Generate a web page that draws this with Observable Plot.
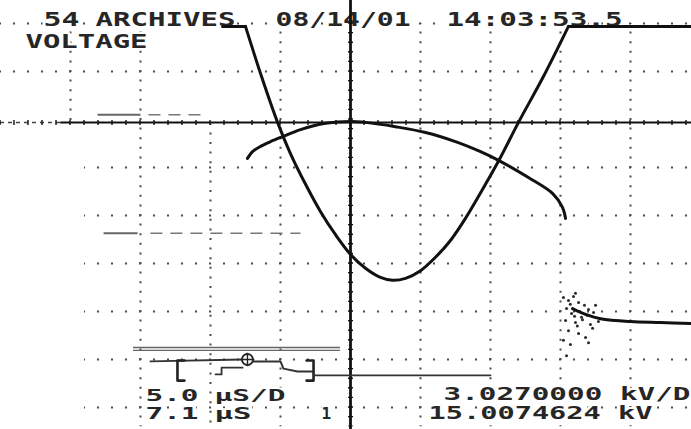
<!DOCTYPE html>
<html><head><meta charset="utf-8">
<script src="https://cdn.jsdelivr.net/npm/d3@7"></script>
<script src="https://cdn.jsdelivr.net/npm/@observablehq/plot@0.6"></script>
<style>
html,body{margin:0;padding:0;background:#fff;}
#chart{width:691px;height:429px;overflow:hidden;}
svg{display:block;}
</style></head><body><div id="chart"></div>
<script>
// Time in µs (5 µs/div, trigger at 0); amplitude in screen divisions (3.027 kV/div) above the bottom graticule line
const gridTimes = [-15, -5, 5, 10, 15, 20];
const gridTimesUpper = [-20];
const gridTimesLower = [-10];
const gridRowsFull = [8, 7];
const gridRowsPart = [0, 1, 2, 3, 4, 5];
const zeroLevel = 5.94;

// Trace A (pulse, clipped at the top of the screen)
const traceAT = [-7.5, -6.36, -5.21, -4.29, -3.21, -2.14, -1.07, 0, 1.07, 2.14, 3.0, 3.93, 5.0, 6.07, 7.14, 8.21, 9.64, 10.71, 12.0, 13.79, 15.57];
const traceAV = [7.94, 6.90, 5.94, 5.29, 4.65, 4.08, 3.60, 3.19, 2.90, 2.71, 2.65, 2.69, 2.85, 3.13, 3.48, 3.94, 4.65, 5.21, 5.94, 6.90, 7.94];
const clipLeftT = [-9.14, -7.5];
const clipRightT = [15.57, 24.36];
const clipV = [7.94, 7.94];

// Trace B (arc)
const traceBT = [-7.36, -7.0, -6.43, -5.71, -4.79, -3.57, -1.79, 0, 1.07, 3.21, 5.36, 7.5, 9.29, 10.57, 12.71, 14.43, 15.14, 15.36];
const traceBV = [5.19, 5.33, 5.44, 5.54, 5.65, 5.79, 5.92, 5.96, 5.94, 5.85, 5.73, 5.54, 5.33, 5.15, 4.79, 4.46, 4.17, 3.94];

// Trace C (settled tail) and its scatter
const traceCT = [15.86, 16.79, 17.86, 20.0, 22.14, 24.36];
const traceCV = [2.06, 1.94, 1.85, 1.79, 1.77, 1.75];
const noiseT = [15.21, 15.57, 15.93, 16.29, 16.71, 15.43, 15.79, 16.36, 17.0, 17.36, 15.36, 16.07, 16.57, 17.14, 17.71, 15.57, 16.29, 16.79, 17.29, 15.21, 15.71, 17.0, 15.43, 16.07, 17.5, 16.0, 16.5, 16.9, 15.7, 16.2];
const noiseV = [2.29, 2.23, 2.31, 2.19, 2.13, 2.06, 1.96, 2.0, 2.04, 1.98, 1.81, 1.77, 1.83, 1.73, 1.79, 1.6, 1.54, 1.46, 1.65, 1.4, 1.31, 1.35, 1.08, 2.38, 2.13, 1.9, 1.88, 1.92, 2.15, 1.7];

// Reference level markers
const refLevels = [6.1, 3.63];
const refSolidT = [[-18.07, -15.0], [-17.64, -15.21]];
const refDashT = [[-14.43, -10.71], [-14.29, -3.57]];

// Record overview (bottom)
const overviewBar = [1.25, 1.19];
const overviewBarT = [-15.5, -0.71];
const ovwLeftT = [-14.29, -7.71];
const ovwLeftV = [0.96, 1.0];
const ovwStepT = [-9.64, -9.21, -9.21, -7.71];
const ovwStepV = [0.69, 0.69, 0.83, 0.83];
const ovwRightT = [-7.0, -5.0, -4.79, -3.79, -2.71];
const ovwRightV = [0.96, 0.96, 0.81, 0.75, 0.75];
const bracketLT = [-11.86, -12.36, -12.36, -11.86];
const bracketRT = [-3.14, -2.64, -2.64, -3.14];
const bracketV = [0.98, 0.98, 0.56, 0.56];
const cursorT = [-7.36];
const cursorV = [1.0];
const baseT = [-2.64, 10.0];
const baseV = [0.67, 0.67];

// Texts
const header = ["54", "ARCHIVES", "08/14/01", "14:03:53.5"];
const channel = "VOLTAGE";
const footLeft = ["5.0", "µS/D", "7.1", "µS", "1"];
const footRight = ["3.0270000 kV/D", "15.0074624 kV"];

const pts = (T, V) => T.map((t, i) => ({t, v: V[i]}));
const ink = "#111";
const dotInk = "#4a4a4a";
const font = "DejaVu Sans Mono";
const stretch = new Map();
function label(text, dx, dy, size, width) {
  if (width) stretch.set(text, width);
  return Plot.text([text], {
    frameAnchor: "top-left", textAnchor: "start", lineAnchor: "top",
    dx, dy, fontSize: size, fontFamily: font, fontWeight: "bold",
    fill: "#262626", stroke: "white", strokeWidth: 4, paintOrder: "stroke"
  });
}

const xMin = -25, xMax = 24.357;
const dotGrid = {stroke: dotInk, strokeWidth: 2, strokeDashoffset: 1};
const trace = {x: "t", y: "v", stroke: ink, strokeWidth: 3, strokeLinejoin: "round", strokeLinecap: "round"};
const chart = Plot.plot({
  width: 691, height: 429,
  margin: 0,
  x: {domain: [xMin, xMax], range: [0, 691], axis: null},
  y: {domain: [-22/48, 407/48], range: [429, 0], axis: null},
  style: {background: "#fff"},
  marks: [
    // graticule
    Plot.ruleY(gridRowsFull, {x1: xMin, x2: xMax, ...dotGrid, strokeDasharray: "2,12"}),
    Plot.ruleY(gridRowsPart, {x1: -19, x2: xMax, ...dotGrid, strokeDasharray: "2,12"}),
    Plot.ruleX(gridTimes, {y1: 8, y2: -0.4, ...dotGrid, strokeDasharray: "2,7.6"}),
    Plot.ruleX(gridTimesUpper, {y1: 8, y2: 5.9, ...dotGrid, strokeDasharray: "2,7.6"}),
    Plot.ruleX(gridTimesLower, {y1: 5.9, y2: -0.4, ...dotGrid, strokeDasharray: "2,7.6"}),
    // reference markers
    Plot.link(refLevels, {x1: (d, i) => refSolidT[i][0], x2: (d, i) => refSolidT[i][1], y1: d => d, y2: d => d, stroke: "#666", strokeWidth: 2}),
    Plot.link(refLevels, {x1: (d, i) => refDashT[i][0], x2: (d, i) => refDashT[i][1], y1: d => d, y2: d => d, stroke: "#777", strokeWidth: 1.5, strokeDasharray: "12,8"}),
    // texts
    label(header[0], 43, 11, 20, 36),
    label(header[1], 95, 11, 20, 140),
    label(header[2], 275, 11, 20, 135),
    label(header[3], 446, 11, 20, 176),
    label(channel, 25, 33, 20, 122),
    label(footLeft[0], 145, 390, 15, 53),
    label(footLeft[1], 214, 390, 15, 71),
    label(footLeft[2], 145, 407, 16, 53),
    label(footLeft[3], 214, 407, 16, 37),
    label(footLeft[4], 321, 407, 16, 0),
    label(footRight[0], 443, 387, 17, 247),
    label(footRight[1], 428, 406, 17, 224),
    // axes
    Plot.ruleY([zeroLevel], {x1: -20.7, x2: xMax, stroke: ink, strokeWidth: 2}),
    Plot.ruleY([zeroLevel], {x1: xMin, x2: -20.7, stroke: "#444", strokeWidth: 1.5, strokeDasharray: "4,4"}),
    Plot.ruleY([zeroLevel], {x1: xMin, x2: xMax, stroke: ink, strokeWidth: 5, strokeDasharray: "1.4,12.6", strokeDashoffset: 0.7}),
    Plot.ruleX([0], {y1: 8.479, y2: -0.46, stroke: ink, strokeWidth: 2.8}),
    Plot.ruleX([0], {y1: 8, y2: -0.4, stroke: ink, strokeWidth: 5, strokeDasharray: "1.4,8.2", strokeDashoffset: 0.7}),
    // overview
    Plot.ruleY(overviewBar, {x1: overviewBarT[0], x2: overviewBarT[1], stroke: "#666", strokeWidth: 1.3}),
    Plot.line(pts(ovwLeftT, ovwLeftV), {x: "t", y: "v", stroke: "#333", strokeWidth: 1.8}),
    Plot.line(pts(ovwStepT, ovwStepV), {x: "t", y: "v", stroke: "#333", strokeWidth: 1.8}),
    Plot.line(pts(ovwRightT, ovwRightV), {x: "t", y: "v", stroke: "#333", strokeWidth: 2}),
    Plot.line(pts(bracketLT, bracketV), {x: "t", y: "v", stroke: "#222", strokeWidth: 2.6}),
    Plot.line(pts(bracketRT, bracketV), {x: "t", y: "v", stroke: "#222", strokeWidth: 2.6}),
    Plot.line(pts(baseT, baseV), {x: "t", y: "v", stroke: "#333", strokeWidth: 1.8}),
    Plot.dot(pts(cursorT, cursorV), {x: "t", y: "v", r: 5.5, stroke: "#222", strokeWidth: 1.8, fill: "white"}),
    Plot.dot(pts(cursorT, cursorV), {x: "t", y: "v", r: 4.5, symbol: "plus", stroke: "#222", strokeWidth: 1.4}),
    // traces
    Plot.dot(pts(noiseT, noiseV), {x: "t", y: "v", r: 1.5, fill: "#2a2a2a", stroke: "none"}),
    Plot.line(pts(traceCT, traceCV), {...trace, curve: "catmull-rom"}),
    Plot.line(pts(traceBT, traceBV), {...trace, curve: "catmull-rom"}),
    Plot.line(pts(clipLeftT, clipV), trace),
    Plot.line(pts(clipRightT, clipV), trace),
    Plot.line(pts(traceAT, traceAV), {...trace, curve: "catmull-rom"})
  ]
});
d3.select(chart).selectAll("text").each(function() {
  const w = stretch.get(this.textContent);
  if (w) { this.setAttribute("textLength", w); this.setAttribute("lengthAdjust", "spacingAndGlyphs"); }
});
document.getElementById("chart").appendChild(chart);
</script>
</body></html>
